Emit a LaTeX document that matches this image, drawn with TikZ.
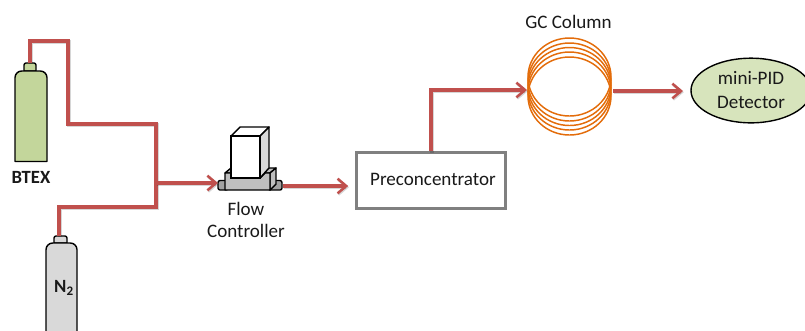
\documentclass[tikz,border=0pt]{standalone}
\usepackage{fontspec}
\setmainfont{Carlito}
\usetikzlibrary{arrows.meta,shapes.geometric}
\definecolor{pipered}{HTML}{C0504D}
\definecolor{coil}{HTML}{E36C0A}
\definecolor{btexgreen}{HTML}{C3D69B}
\definecolor{pidgreen}{HTML}{D7E4BC}
\definecolor{cylgray}{HTML}{D9D9D9}
\definecolor{fcgray}{HTML}{BFBFBF}
\tikzset{
  pipe/.style={draw=pipered,line width=2.3pt,line join=miter,
    preaction={draw=black,draw opacity=.16,line width=2.6pt,transform canvas={shift={(.6pt,-.9pt)}}}},
  flow/.style={pipe,-{Straight Barb[length=6.5pt,width=11pt,line width=1.9pt]}},
  cyl/.style={draw=black,line width=1.05pt,line join=round},
  fc/.style={draw=black,line width=1.05pt,line join=round},
  lbl/.style={font=\fontsize{14.3}{16.5}\selectfont,align=center,inner sep=0pt,text=black!90},
  bold/.style={font=\fontsize{14}{16}\selectfont\bfseries,inner sep=0pt,text=black!90},
  coilring/.style={draw=coil,line width=1.1pt,fill=none},
}
\begin{document}
\begin{tikzpicture}[x=0.75pt,y=-0.75pt]
\clip (0,0) rectangle (805,330);
% cylinders
\draw[cyl,fill=btexgreen] (24,71) [rounded corners=1.5pt] -- (24,63) -- (36,63) [sharp corners] -- (36,71) -- cycle;
\draw[cyl,fill=btexgreen] (15,161.5) [rounded corners=5pt] -- (15,71) -- (47,71) [sharp corners] -- (47,161.5) -- cycle;
\draw[cyl,fill=cylgray] (54,243) [rounded corners=1.5pt] -- (54,236) -- (67,236) [sharp corners] -- (67,243) -- cycle;
\draw[cyl,fill=cylgray] (46,340) [rounded corners=5pt] -- (46,243) -- (77,243) [sharp corners] -- (77,340) -- cycle;
\coordinate (btexneck) at (30,63);
\coordinate (n2neck) at (59,236);
\coordinate (junction) at (156,183);
% gas lines
\draw[pipe] (btexneck) -- (30,41) -- (68,41) -- (68,124) -- (156,124) -- (156,207) -- (59,207) -- (n2neck);
% flow controller
\draw[fc,fill=fcgray!85!black,rounded corners=1.5pt] (218,180.5) rectangle (228,190);
\draw[fc,fill=fcgray!85!black,rounded corners=1.5pt] (268,180.5) rectangle (282,190);
\draw[fc,fill=fcgray] (225,173) -- (231,168) -- (240,168) -- (240,173) -- cycle;
\draw[fc,fill=fcgray] (258,173) -- (264,168) -- (276,168) -- (270,173) -- cycle;
\draw[fc,fill=fcgray] (270,173) -- (276,168) -- (276,184) -- (270,190) -- cycle;
\draw[fc,fill=fcgray] (225,173) -- (231,173) -- (231,178) -- (260,178) -- (265,173) -- (270,173) -- (270,190) -- (225,190) -- cycle;
\draw[fc,fill=white] (231,136) -- (240,127) -- (269,127) -- (260,136) -- cycle;
\draw[fc,fill=cylgray] (260,136) -- (269,127) -- (269,168) -- (260,178) -- cycle;
\node[draw=black,line width=1.05pt,fill=white,minimum width=21.75pt,minimum height=31.5pt,inner sep=0pt] (fcbody) at (245.5,157) {};
\coordinate (fcin) at (218,183);
\coordinate (fcout) at (283,186);
\node[lbl] (fclabel) at (246,219.5) {Flow\\Controller};
% preconcentrator
\node[draw=black!50,line width=2.2pt,fill=white,minimum width=112pt,minimum height=41.5pt,inner sep=0pt] (pre) at (431,180.5) {};
\node[lbl] (pretext) at (433,179) {Preconcentrator};
% coil
\foreach \c in {77,82,86.5,91,96}
  \draw[coilring] (569.5,\c) ellipse[x radius=41.5,y radius=39];
\coordinate (coilin) at (527,90);
\coordinate (coilout) at (613,91);
\node[lbl] (gclabel) at (568.5,22) {GC Column};
% detector
\node[ellipse,draw=black,line width=1.05pt,fill=pidgreen,minimum width=90pt,minimum height=48.5pt,inner sep=0pt] (pid) at (751,90.5) {};
\node[lbl,align=center] (pidtext) at (751,90.5) {mini-PID\\[1.5pt]Detector};
\coordinate (pidin) at (683,91);
% labels
\node[bold] (btexlabel) at (31,177) {BTEX};
\node[bold] (n2label) at (64,288) {N\textsubscript{2}};
% flows
\draw[flow] (junction) -- (fcin);
\draw[flow,shorten >=5pt] (fcout) -- (fcout -| pre.west);
\draw[flow] (pre.north) -- (431,90) -- (coilin);
\draw[flow] (coilout) -- (pidin);
\end{tikzpicture}
\end{document}
